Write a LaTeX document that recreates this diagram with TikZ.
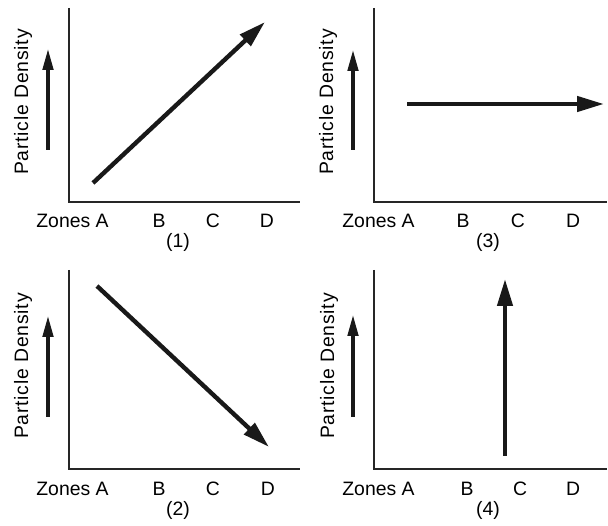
\documentclass[tikz,border=0pt]{standalone}
\usepackage{fontspec}
\setmainfont{Liberation Sans}
\newfontfamily\ylabfont[LetterSpace=4.0]{Liberation Sans}
\usetikzlibrary{arrows.meta}
\begin{document}
\begin{tikzpicture}[x=1pt,y=-1pt,
 axis/.style={line width=1.3pt, draw=black!85},
 big/.style={line width=4.4pt, draw=black!90, -{Triangle[length=27pt,width=15pt]}},
 small/.style={line width=3.2pt, draw=black!90, -{Triangle[length=21pt,width=10.5pt]}},
 lab/.style={font=\fontsize{19.4}{19.4}\selectfont, inner sep=0pt, anchor=base, text=black},
 ylab/.style={font=\ylabfont\fontsize{19.4}{19.4}\selectfont, rotate=90, inner sep=0pt, text=black}]
\useasboundingbox (0,0) rectangle (608,526);
% ---------- panel (1) ----------
\coordinate (o1) at (69,202);
\coordinate (t1) at (69,8);
\coordinate (r1) at (300,202);
\draw[axis] (t1) -- (o1) -- (r1);
\coordinate (s1a) at (48,150); \coordinate (s1b) at (48,49);
\draw[small] (s1a) -- (s1b);
\node[ylab] (y1) at (23,102) {Particle Density};
\coordinate (m1a) at (93,183); \coordinate (m1b) at (265,22);
\draw[big] (m1a) -- (m1b);
\node[lab] (z1) at (72.5,228) {Zones A};
\node[lab] (b1) at (159,228) {B};
\node[lab] (c1) at (213,228) {C};
\node[lab] (d1) at (267,228) {D};
\node[lab] (n1) at (178,248) {(1)};
% ---------- panel (3) ----------
\coordinate (o3) at (374,202);
\coordinate (t3) at (374,8);
\coordinate (r3) at (607,202);
\draw[axis] (t3) -- (o3) -- (r3);
\coordinate (s3a) at (353,150); \coordinate (s3b) at (353,50);
\draw[small] (s3a) -- (s3b);
\node[ylab] (y3) at (328,102) {Particle Density};
\coordinate (m3a) at (407,104); \coordinate (m3b) at (604,104);
\draw[big] (m3a) -- (m3b);
\node[lab] (z3) at (378.5,228) {Zones A};
\node[lab] (b3) at (463,228) {B};
\node[lab] (c3) at (518,228) {C};
\node[lab] (d3) at (573,228) {D};
\node[lab] (n3) at (488,248) {(3)};
% ---------- panel (2) ----------
\coordinate (o2) at (69,469);
\coordinate (t2) at (69,270);
\coordinate (r2) at (300,469);
\draw[axis] (t2) -- (o2) -- (r2);
\coordinate (s2a) at (48,417); \coordinate (s2b) at (48,316);
\draw[small] (s2a) -- (s2b);
\node[ylab] (y2) at (23,366) {Particle Density};
\coordinate (m2a) at (97,286); \coordinate (m2b) at (269,447);
\draw[big] (m2a) -- (m2b);
\node[lab] (z2) at (72.5,495) {Zones A};
\node[lab] (b2) at (159,495) {B};
\node[lab] (c2) at (213,495) {C};
\node[lab] (d2) at (268,495) {D};
\node[lab] (n2) at (178,515) {(2)};
% ---------- panel (4) ----------
\coordinate (o4) at (374,469);
\coordinate (t4) at (374,270);
\coordinate (r4) at (607,469);
\draw[axis] (t4) -- (o4) -- (r4);
\coordinate (s4a) at (353,417); \coordinate (s4b) at (353,315);
\draw[small] (s4a) -- (s4b);
\node[ylab] (y4) at (329,366) {Particle Density};
\coordinate (m4a) at (505,456); \coordinate (m4b) at (505,279);
\draw[big] (m4a) -- (m4b);
\node[lab] (z4) at (378.5,495) {Zones A};
\node[lab] (b4) at (467,495) {B};
\node[lab] (c4) at (520,495) {C};
\node[lab] (d4) at (573,495) {D};
\node[lab] (n4) at (488,515) {(4)};
\end{tikzpicture}
\end{document}
